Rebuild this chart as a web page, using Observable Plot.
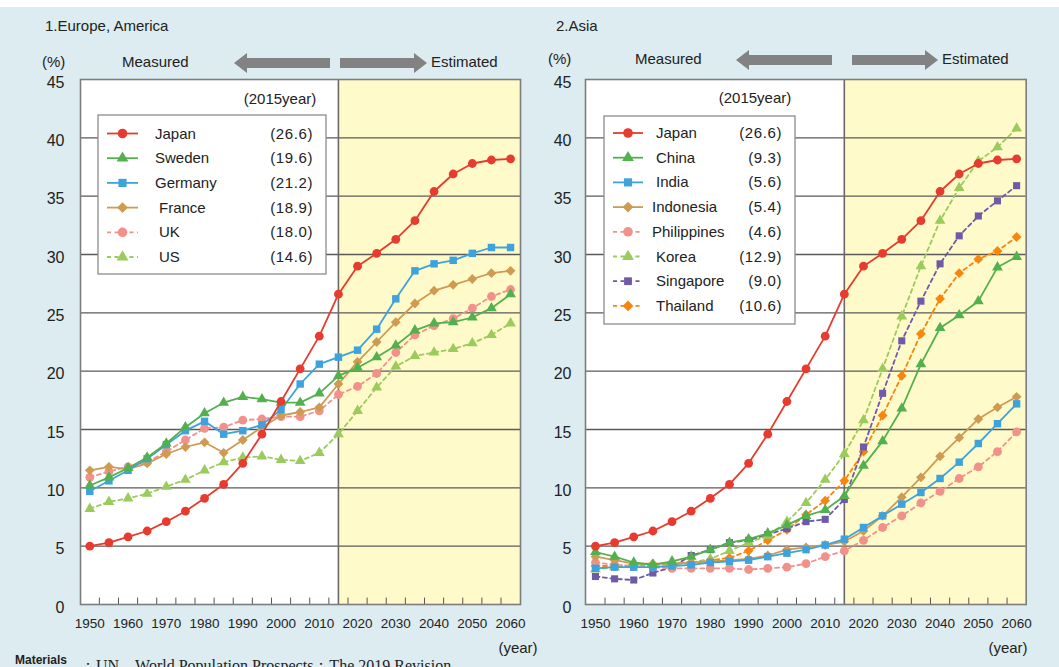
<!DOCTYPE html>
<html><head><meta charset="utf-8">
<script src="https://cdn.jsdelivr.net/npm/d3@7"></script>
<script src="https://cdn.jsdelivr.net/npm/@observablehq/plot@0.6"></script>
<style>
html,body{margin:0;padding:0;overflow:hidden;background:#fff;}
#wrap{position:relative;width:1059px;height:667px;overflow:hidden;font-family:"Liberation Sans",Arial,sans-serif;}
#bg{position:absolute;left:0;top:7px;width:1059px;height:660px;background:#dcecf0;}
.panel{position:absolute;top:0;height:667px;}
.panel svg{display:block;overflow:visible;}
#cap{position:absolute;left:0;top:0;width:1059px;height:667px;pointer-events:none;}
</style></head>
<body><div id="wrap"><div id="bg"></div><div id="p1" class="panel" style="left:0;width:530px"></div><div id="p2" class="panel" style="left:530px;width:529px"></div><svg id="cap" width="1059" height="667"></svg></div>
<script>
// ---------- data ----------
const years = [1950,1955,1960,1965,1970,1975,1980,1985,1990,1995,2000,2005,2010,2015,2020,2025,2030,2035,2040,2045,2050,2055,2060];
const xLabelYears = [1950,1960,1970,1980,1990,2000,2010,2020,2030,2040,2050,2060];
const yTicks = [0,5,10,15,20,25,30,35,40,45];
const splitYear = 2015;

const japan   = [5.0,5.3,5.8,6.3,7.1,8.0,9.1,10.3,12.1,14.6,17.4,20.2,23.0,26.6,29.0,30.1,31.3,32.9,35.4,36.9,37.8,38.1,38.2];
const sweden  = [10.2,10.9,11.7,12.6,13.8,15.2,16.4,17.3,17.8,17.6,17.3,17.3,18.1,19.6,20.3,21.2,22.2,23.5,24.1,24.2,24.6,25.4,26.6];
const germany = [9.7,10.6,11.5,12.5,13.7,14.9,15.7,14.6,14.9,15.4,16.7,18.9,20.6,21.2,21.8,23.6,26.2,28.6,29.2,29.5,30.1,30.6,30.6];
const france  = [11.5,11.8,11.6,12.1,12.9,13.5,13.9,13.0,14.1,15.2,16.2,16.5,16.9,18.9,20.8,22.5,24.2,25.8,26.9,27.4,27.9,28.4,28.6];
const uk      = [10.9,11.4,11.8,12.2,13.1,14.1,15.1,15.2,15.8,15.9,16.1,16.1,16.6,18.0,18.7,19.8,21.6,23.1,23.9,24.5,25.4,26.4,27.0];
const us      = [8.2,8.8,9.1,9.5,10.1,10.7,11.5,12.2,12.6,12.7,12.4,12.3,13.0,14.6,16.6,18.6,20.4,21.3,21.6,21.9,22.4,23.1,24.1];

const china       = [4.5,4.1,3.6,3.4,3.7,4.1,4.7,5.3,5.6,6.1,6.8,7.6,8.1,9.3,11.9,14.0,16.8,20.6,23.7,24.8,26.0,28.9,29.8];
const india       = [3.1,3.2,3.2,3.2,3.3,3.4,3.6,3.7,3.8,4.1,4.4,4.7,5.1,5.6,6.6,7.6,8.6,9.6,10.8,12.2,13.8,15.5,17.2];
const indonesia   = [4.1,3.8,3.5,3.5,3.5,3.6,3.7,3.8,3.9,4.2,4.7,4.9,5.1,5.4,6.3,7.6,9.2,10.9,12.7,14.3,15.9,16.9,17.8];
const philippines = [3.6,3.4,3.3,3.2,3.1,3.1,3.1,3.1,3.0,3.1,3.2,3.5,4.1,4.6,5.5,6.6,7.6,8.7,9.7,10.8,11.8,13.1,14.8];
const korea       = [3.0,3.2,3.4,3.4,3.4,3.6,3.9,4.6,5.3,5.9,7.1,8.7,10.7,12.9,15.8,20.2,24.7,29.0,32.9,35.7,38.0,39.2,40.8];
const singapore   = [2.4,2.2,2.1,2.7,3.2,4.2,4.7,5.3,5.5,6.0,6.5,7.1,7.3,9.0,13.5,18.1,22.6,26.0,29.2,31.6,33.3,34.6,35.9];
const thailand    = [3.3,3.3,3.3,3.4,3.5,3.6,3.8,4.0,4.6,5.5,6.4,7.7,8.9,10.6,13.1,16.2,19.6,23.2,26.2,28.4,29.6,30.3,31.5];

const europeNames = ["Japan","Sweden","Germany","France","UK","US"];
const europeValues = [japan,sweden,germany,france,uk,us];
const asiaNames = ["Japan","China","India","Indonesia","Philippines","Korea","Singapore","Thailand"];
const asiaValues = [japan,china,india,indonesia,philippines,korea,singapore,thailand];

// ---------- styles ----------
const RED="#e63b2e", GREEN="#52b04e", BLUE="#3ea3dc", TAN="#cf9a52", PINK="#f2918a", LGREEN="#9bcb5c", PURPLE="#6f5aa8", ORANGE="#f7860f";
const styles = {
  Japan:{color:RED,symbol:"circle",r:4.4,dash:null},
  Sweden:{color:GREEN,symbol:"triangle",r:4.0,dash:null},
  Germany:{color:BLUE,symbol:"square",r:4.2,dash:null},
  France:{color:TAN,symbol:"diamond2",r:4.4,dash:null,indent:4},
  UK:{color:PINK,symbol:"circle",r:4.4,dash:"4,3.5",indent:4},
  US:{color:LGREEN,symbol:"triangle",r:4.0,dash:"4,3.5",indent:4},
  China:{color:GREEN,symbol:"triangle",r:4.0,dash:null},
  India:{color:BLUE,symbol:"square",r:4.2,dash:null},
  Indonesia:{color:TAN,symbol:"diamond2",r:4.4,dash:null,indent:-4},
  Philippines:{color:PINK,symbol:"circle",r:4.4,dash:"4,3.5",indent:-4},
  Korea:{color:LGREEN,symbol:"triangle",r:4.0,dash:"4,3.5"},
  Singapore:{color:PURPLE,symbol:"square",r:4.0,dash:"4,3.5"},
  Thailand:{color:ORANGE,symbol:"diamond2",r:4.4,dash:"4,3.5"}
};
const FONT = '"Liberation Sans", Arial, sans-serif';
const symMap = {circle:d3.symbolCircle, triangle:d3.symbolTriangle, square:d3.symbolSquare, diamond2:d3.symbolDiamond2};

function makePanel(cfg){
  const yMax = d3.max(yTicks);
  const tickPositions = years.slice(0,-1).map(y=>y+2.5);
  const marks = [
    Plot.rect([0],{x1:cfg.xDomain[0],x2:splitYear,y1:0,y2:yMax,fill:"#ffffff"}),
    Plot.rect([0],{x1:splitYear,x2:cfg.xDomain[1],y1:0,y2:yMax,fill:"#fffac9"}),
    Plot.ruleY(yTicks.filter(v=>v>0&&v<yMax),{stroke:"#5a5a5a",strokeWidth:1.4}),
    Plot.ruleX(tickPositions,{y1:0,y2:0.55,stroke:"#555",strokeWidth:1}),
    Plot.ruleX([splitYear],{stroke:"#6a6a6a",strokeWidth:1.6}),
    Plot.frame({stroke:"#7d7d7d",strokeWidth:1.6})
  ];
  const order = cfg.names.map((n,i)=>i).reverse();
  for(const i of order){
    const name=cfg.names[i], st=styles[name];
    const data = years.map((yr,j)=>({year:yr,value:cfg.values[i][j]}));
    marks.push(Plot.line(data,{x:"year",y:"value",stroke:st.color,strokeWidth:1.8,strokeDasharray:st.dash||undefined}));
    marks.push(Plot.dot(data,{x:"year",y:"value",symbol:st.symbol,r:st.r,fill:st.color,stroke:"none"}));
  }
  marks.push(Plot.text(yTicks,{x:cfg.xDomain[0],y:d=>d,text:d=>String(d),dx:-cfg.yPad,dy:3,textAnchor:"end",fontSize:16,fill:"#222"}));
  marks.push(Plot.text(xLabelYears,{x:d=>d,y:0,text:d=>String(d),dy:19,fontSize:13.5,fill:"#222"}));
  const svg = Plot.plot({
    width:cfg.width,height:667,
    marginLeft:cfg.ml,marginRight:cfg.mr,marginTop:79,marginBottom:63,
    x:{domain:cfg.xDomain,axis:null},
    y:{domain:[0,yMax],axis:null},
    style:{background:"transparent",overflow:"visible",fontFamily:FONT},
    marks
  });
  const g = d3.select(svg).append("g").attr("font-family",FONT).attr("fill","#222").attr("text-anchor","start");
  // legend
  const L = cfg.legend;
  g.append("rect").attr("x",L.x).attr("y",L.y).attr("width",L.w).attr("height",L.h)
    .attr("fill","#fff").attr("stroke","#8c8c8c").attr("stroke-width",1.3);
  cfg.names.forEach((name,i)=>{
    const st=styles[name], cy=L.cy0+i*L.step;
    g.append("line").attr("x1",L.lx1).attr("x2",L.lx2).attr("y1",cy).attr("y2",cy)
      .attr("stroke",st.color).attr("stroke-width",1.8).attr("stroke-dasharray",st.dash||null);
    g.append("path").attr("transform",`translate(${(L.lx1+L.lx2)/2},${cy})`)
      .attr("d",d3.symbol(symMap[st.symbol],Math.PI*st.r*st.r*1.2)()).attr("fill",st.color);
    g.append("text").attr("x",L.nx+(st.indent||0)).attr("y",cy+5).attr("font-size",15).text(name);
    const v = cfg.values[i][years.indexOf(splitYear)];
    g.append("text").attr("x",L.vx).attr("y",cy+5).attr("font-size",15).attr("text-anchor","end")
      .attr("letter-spacing",0.6).text("(" + v.toFixed(1) + ")");
  });
  g.append("text").attr("x",L.yrx).attr("y",L.yry).attr("font-size",15).attr("text-anchor","middle").text("(2015year)");
  // header
  const H = cfg.header;
  g.append("text").attr("x",H.tx).attr("y",31).attr("font-size",15).text(cfg.title);
  g.append("text").attr("x",H.px).attr("y",H.by).attr("font-size",15).text("(%)");
  g.append("text").attr("x",H.mx).attr("y",H.by).attr("font-size",15).text("Measured");
  g.append("text").attr("x",H.ex).attr("y",H.by).attr("font-size",15).text("Estimated");
  const ac=H.ay, bt=5, hh=10, hl=13;
  g.append("path").attr("fill","#828282").attr("d",
    `M${H.a1[0]},${ac} L${H.a1[0]+hl},${ac-hh} L${H.a1[0]+hl},${ac-bt} L${H.a1[1]},${ac-bt} L${H.a1[1]},${ac+bt} L${H.a1[0]+hl},${ac+bt} L${H.a1[0]+hl},${ac+hh} Z`);
  g.append("path").attr("fill","#828282").attr("d",
    `M${H.a2[1]},${ac} L${H.a2[1]-hl},${ac-hh} L${H.a2[1]-hl},${ac-bt} L${H.a2[0]},${ac-bt} L${H.a2[0]},${ac+bt} L${H.a2[1]-hl},${ac+bt} L${H.a2[1]-hl},${ac+hh} Z`);
  g.append("text").attr("x",H.yx).attr("y",H.yy).attr("font-size",15).attr("text-anchor","middle").text("(year)");
  return svg;
}

document.getElementById("p1").appendChild(makePanel({
  names:europeNames, values:europeValues, title:"1.Europe, America",
  width:530, ml:80, mr:10, xDomain:[1947.57,2062.6], yPad:16,
  legend:{x:98,y:115,w:228,h:159,cy0:133.5,step:24.7,lx1:107,lx2:138,nx:155,vx:313,yrx:280,yry:104},
  header:{tx:45,px:42,mx:122,ex:431,by:67,ay:63,a1:[234,330],a2:[340,427],yx:518,yy:653}
}));
document.getElementById("p2").appendChild(makePanel({
  names:asiaNames, values:asiaValues, title:"2.Asia",
  width:529, ml:55, mr:33.3, xDomain:[1947.4,2062.5], yPad:14,
  legend:{x:74,y:116,w:191,h:208,cy0:133,step:24.7,lx1:83,lx2:113,nx:126,vx:252,yrx:225,yry:103},
  header:{tx:26,px:18,mx:105,ex:412,by:64,ay:60,a1:[206,302],a2:[322,408],yx:478,yy:653}
}));

// caption
const cap = d3.select("#cap");
cap.append("text").attr("x",15).attr("y",664).attr("font-family",FONT).attr("font-weight","bold")
  .attr("font-size",12).attr("fill","#222").text("Materials");
cap.append("text").attr("x",80).attr("y",671).attr("font-family",'"Liberation Serif", serif')
  .attr("font-size",16).attr("fill","#222").text("：UN　World Population Prospects：The 2019 Revision");
</script>
</body></html>
